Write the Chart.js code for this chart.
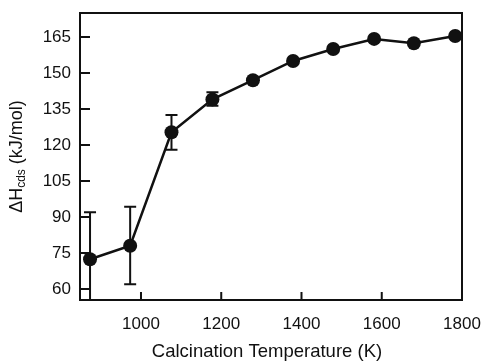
<!DOCTYPE html>
<html>
<head>
<meta charset="utf-8">
<script src="https://cdn.jsdelivr.net/npm/chart.js@4"></script>
<style>
  html, body { margin: 0; padding: 0; background: #fff; }
  #wrap { width: 483px; height: 362px; }
</style>
</head>
<body>
<div id="wrap"><canvas id="chart"></canvas></div>
<script>
// data
const temps = [873, 973, 1076, 1178, 1279, 1379, 1479, 1581, 1680, 1783];
const enthalpy = [72.4, 78, 125.3, 139, 147, 155, 160, 164.2, 162.4, 165.4];
const errLow = [50, 62, 118, 136.3, null, null, null, null, null, null];
const errHigh = [92, 94.3, 132.5, 142, null, null, null, null, null, null];
const xTicks = [1000, 1200, 1400, 1600, 1800];
const yTicks = [60, 75, 90, 105, 120, 135, 150, 165];

const FONT = "'Liberation Sans', Arial, Helvetica, sans-serif";
const INK = "#111";

// error bars, drawn under the markers
const errorBars = {
  id: "errorBars",
  beforeDatasetsDraw(chart) {
    const ctx = chart.ctx;
    const x = chart.scales.x, y = chart.scales.y;
    const a = chart.chartArea;
    ctx.save();
    ctx.beginPath();
    ctx.rect(a.left, a.top, a.right - a.left, a.bottom - a.top);
    ctx.clip();
    ctx.strokeStyle = INK;
    ctx.lineWidth = 2;
    for (let i = 0; i < temps.length; i++) {
      if (errLow[i] == null) continue;
      const px = x.getPixelForValue(temps[i]);
      const lo = y.getPixelForValue(errLow[i]);
      const hi = y.getPixelForValue(errHigh[i]);
      ctx.beginPath();
      ctx.moveTo(px, lo); ctx.lineTo(px, hi);
      ctx.moveTo(px - 6, hi); ctx.lineTo(px + 6, hi);
      ctx.moveTo(px - 6, lo); ctx.lineTo(px + 6, lo);
      ctx.stroke();
    }
    ctx.restore();
  }
};

// box frame, inward ticks and axis titles
const frame = {
  id: "frame",
  afterDraw(chart) {
    const ctx = chart.ctx;
    const a = chart.chartArea;
    const x = chart.scales.x, y = chart.scales.y;
    ctx.save();
    ctx.strokeStyle = INK;
    ctx.lineWidth = 2;
    ctx.strokeRect(a.left, a.top, a.right - a.left, a.bottom - a.top);
    ctx.beginPath();
    yTicks.forEach(v => {
      const py = y.getPixelForValue(v);
      ctx.moveTo(a.left, py); ctx.lineTo(a.left + 10, py);
    });
    xTicks.forEach(v => {
      const px = x.getPixelForValue(v);
      ctx.moveTo(px, a.bottom); ctx.lineTo(px, a.bottom - 8);
    });
    ctx.stroke();

    ctx.fillStyle = INK;
    ctx.textBaseline = "middle";
    // x title
    ctx.font = "18.5px " + FONT;
    ctx.textAlign = "center";
    ctx.fillText("Calcination Temperature (K)", 267, 352);

    // y title with subscript
    const main = "ΔH", sub = "cds", rest = " (kJ/mol)";
    ctx.font = "18px " + FONT;
    const w1 = ctx.measureText(main).width;
    const w3 = ctx.measureText(rest).width;
    ctx.font = "12px " + FONT;
    const w2 = ctx.measureText(sub).width;
    const total = w1 + w2 + w3;
    ctx.translate(17, (a.top + a.bottom) / 2);
    ctx.rotate(-Math.PI / 2);
    ctx.textAlign = "left";
    let cx = -total / 2;
    ctx.font = "18px " + FONT;
    ctx.fillText(main, cx, 0);
    cx += w1;
    ctx.font = "12px " + FONT;
    ctx.fillText(sub, cx, 5);
    cx += w2;
    ctx.font = "18px " + FONT;
    ctx.fillText(rest, cx, 0);
    ctx.restore();
  }
};

const noPad = s => {
  s.paddingTop = 0; s.paddingBottom = 0;
  s.paddingLeft = 0; s.paddingRight = 0;
};

new Chart(document.getElementById("chart"), {
  type: "line",
  data: {
    datasets: [{
      data: temps.map((t, i) => ({ x: t, y: enthalpy[i] })),
      borderColor: INK,
      borderWidth: 2.5,
      backgroundColor: INK,
      pointBackgroundColor: INK,
      pointBorderColor: INK,
      pointRadius: 7,
      pointBorderWidth: 0,
      tension: 0,
      clip: false
    }]
  },
  options: {
    responsive: true,
    maintainAspectRatio: false,
    animation: false,
    events: [],
    layout: { padding: { top: 13, right: 21, left: 0, bottom: 0 } },
    plugins: { legend: { display: false }, tooltip: { enabled: false } },
    scales: {
      x: {
        type: "linear",
        min: 848,
        max: 1800,
        afterBuildTicks: s => { s.ticks = xTicks.map(v => ({ value: v })); },
        afterFit: s => { s.height = 62; noPad(s); },
        grid: { display: false, drawTicks: false },
        border: { display: false },
        ticks: {
          color: INK, font: { family: FONT, size: 17 }, padding: 14, maxRotation: 0,
          callback: v => String(v)
        }
      },
      y: {
        type: "linear",
        min: 55.4,
        max: 175,
        afterBuildTicks: s => { s.ticks = yTicks.map(v => ({ value: v })); },
        afterFit: s => { s.width = 80; noPad(s); },
        grid: { display: false, drawTicks: false },
        border: { display: false },
        ticks: { color: INK, font: { family: FONT, size: 17 }, padding: 9 }
      }
    }
  },
  plugins: [errorBars, frame]
});
</script>
</body>
</html>
